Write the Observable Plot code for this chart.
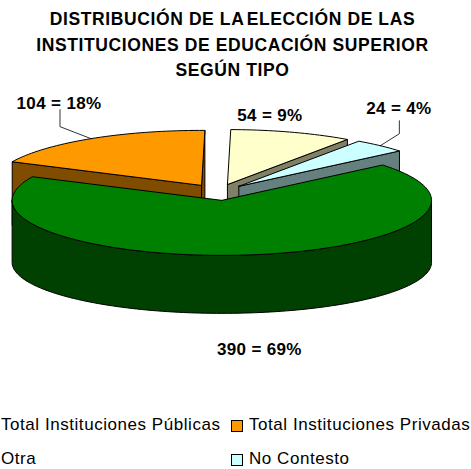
<!DOCTYPE html>
<html><head><meta charset="utf-8">
<script src="https://cdn.jsdelivr.net/npm/d3@7"></script>
<script src="https://cdn.jsdelivr.net/npm/@observablehq/plot@0.6"></script>
<style>
html,body{margin:0;padding:0;background:#fff;width:471px;height:469px;overflow:hidden;font-family:"Liberation Sans",Arial,sans-serif;color:#000}
#title{position:absolute;left:0;top:7px;width:471px;height:71px;text-align:center;font-weight:bold;font-size:17.5px;letter-spacing:.6px;line-height:25.5px;white-space:nowrap}
#title div{position:relative;left:-3px}
#title .tight{word-spacing:-2.5px}
#chart{position:absolute;left:0;top:78px}
#legend{position:absolute;left:0;top:400px;width:471px;height:69px;font-size:17px;letter-spacing:.55px}
.item{position:absolute;white-space:nowrap;line-height:20px}
.sw{position:absolute;width:10px;height:10px;border:1px solid #000}
</style></head><body>
<div id="title"></div><div id="chart"></div><div id="legend"></div>
<script>
const titleLines = ["DISTRIBUCIÓN DE LA ELECCIÓN DE LAS", "INSTITUCIONES DE EDUCACIÓN SUPERIOR", "SEGÚN TIPO"];
const categories = ["Total Instituciones Públicas", "Total Instituciones Privadas", "Otra", "No Contesto"];
const values = [390, 104, 54, 24];
const labels = ["390 = 69%", "104 = 18%", "54 = 9%", "24 = 4%"];
const topColors = ["#008000", "#FF9900", "#FFFFCC", "#CCFFFF"];
const wallColors = ["#004000", "#804D00", "#808066", "#668080"];

// layout of the exploded tilted pie (unit circle; the y scale does the flattening)
const W = 471, H = 322, top0 = 78;
const cx = 217.4, cy = 191.8, rx = 209.7, ry = 55, depthPx = 62, explodePx = 31, startDeg = 40, bottomSquash = 51 / 55;
const depth = depthPx / ry, explode = explodePx / rx;
const ox = px => px / rx, oy = px => -px / ry;
const rad = d => d * Math.PI / 180;

const total = d3.sum(values);
let cum = 0;
const slices = values.map((v, i) => {
  const a0 = startDeg - cum / total * 360; cum += v;
  const a1 = startDeg - cum / total * 360;
  const mid = (a0 + a1) / 2;
  return {i, a0, a1, mid, cx: explode * Math.cos(rad(mid)), cy: explode * Math.sin(rad(mid))};
});
const pt = (s, a, down = 0) => ({x: s.cx + Math.cos(rad(a)), y: s.cy + Math.sin(rad(a)) * (down ? bottomSquash : 1) - down});
const arc = (s, from, to, down = 0) => {
  const n = Math.max(2, Math.ceil(Math.abs(to - from) / 1.5));
  return d3.range(n + 1).map(k => pt(s, from + (to - from) * k / n, down));
};
const close = p => [...p, p[0]];
const poly = (p, fill) => Plot.line(close(p), {x: "x", y: "y", fill, stroke: "#000", strokeWidth: 1, strokeLinejoin: "round", curve: "linear"});

const marks = [];
// paint back slices first, the big front slice last
for (const s of [slices[1], slices[2], slices[3], slices[0]]) {
  const wall = wallColors[s.i], c = {x: s.cx, y: s.cy}, cd = {x: s.cx, y: s.cy - depth};
  const edge = a => poly([c, pt(s, a), pt(s, a, depth), cd], wall);
  if (Math.sin(rad(s.a1 - 90)) < 0) marks.push(edge(s.a1));
  if (Math.sin(rad(s.a0 + 90)) < 0) marks.push(edge(s.a0));
  // outer wall, front half only
  const hi = Math.min(s.a0, 0), lo = Math.max(s.a1, -180);
  if (hi > lo) marks.push(poly([...arc(s, lo, hi), ...arc(s, hi, lo, depth)], wall));
  marks.push(poly([c, ...arc(s, s.a0, s.a1)], topColors[s.i]));
}
// leader lines for the two outer labels
const leaders = {1: [-31, -12, -31, -29], 3: [19, -12, 19, -25]};
for (const [k, [ex, ey, sx, sy]] of Object.entries(leaders)) {
  const s = slices[k], e = pt(s, s.mid);
  marks.push(Plot.line([e, {x: e.x + ox(ex), y: e.y + oy(ey)}, {x: e.x + ox(sx), y: e.y + oy(sy)}],
    {x: "x", y: "y", stroke: "#000", strokeWidth: 0.8}));
}
// value labels, offset from where each slice's bisector meets its rim
const labelOffset = [[11, 100], [-32, -30], [-22, -11], [18.5, -32]];
slices.forEach(s => {
  const e = pt(s, s.mid), [dx, dy] = labelOffset[s.i];
  marks.push(Plot.text([labels[s.i]], {x: [e.x + ox(dx)], y: [e.y + oy(dy)], text: d => d,
    fontSize: 17, fontWeight: "bold", fill: "#000", textAnchor: "middle", lineAnchor: "bottom", fontFamily: "Liberation Sans, Arial, sans-serif"}));
});

const chart = Plot.plot({
  width: W, height: H, margin: 0,
  x: {domain: [-1, 1], range: [cx - rx, cx + rx], axis: null},
  y: {domain: [-1, 1], range: [cy + ry - top0, cy - ry - top0], axis: null},
  style: {background: "transparent", overflow: "visible", letterSpacing: ".35px"},
  marks
});
document.getElementById("chart").append(chart);

document.getElementById("title").innerHTML = titleLines.map(t => `<div>${t.replace("LA ELECCIÓN", '<span class="tight">LA ELECCIÓN</span>')}</div>`).join("");

// legend: two rows, two columns; the left column's swatches fall off the page as in the reference
const legend = document.getElementById("legend");
const colX = [-17, 231], rowY = [15, 49];
categories.forEach((c, i) => {
  const col = i % 2, row = i >> 1;
  const sw = document.createElement("div"); sw.className = "sw";
  sw.style.cssText = `left:${colX[col]}px;top:${rowY[row] + 5}px;background:${topColors[i]}`;
  const t = document.createElement("div"); t.className = "item"; t.textContent = c;
  t.style.cssText = `left:${colX[col] + 18}px;top:${rowY[row]}px`;
  legend.append(sw, t);
});
</script>
</body></html>
